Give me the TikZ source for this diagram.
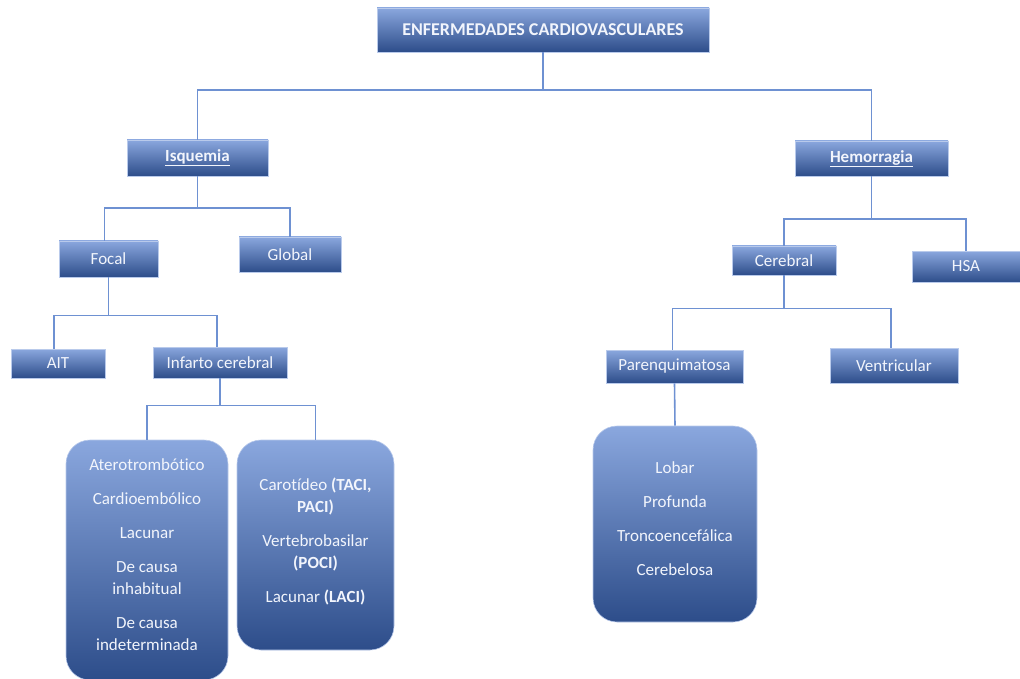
\documentclass[tikz,border=0pt]{standalone}
\usepackage{fontspec}
\setmainfont[Ligatures=NoCommon]{Carlito}
\usetikzlibrary{calc, positioning}

\definecolor{boxtop}{HTML}{8AA7DE}
\definecolor{boxmid}{HTML}{4A73C2}
\definecolor{boxbot}{HTML}{2D4D8A}
\definecolor{linkcol}{HTML}{6E91D2}
\definecolor{boxtext}{HTML}{F2F5FC}

\tikzset{
    box/.style={rectangle, top color=boxtop, middle color=boxmid, bottom color=boxbot, draw=boxtop!60!white, line width=0.6pt, text=boxtext, inner sep=0pt, font=\fontsize{17}{19}\selectfont},
    roundbox/.style={box, rounded corners=24pt, align=center, text depth=10pt, font=\fontsize{17}{22}\selectfont},
    link/.style={draw=linkcol, line width=1.6pt}
}

\begin{document}
\begin{tikzpicture}[x=1pt, y=-1pt]
    \useasboundingbox (0, 0) rectangle (1020, 679);

    \node[box, minimum width=332, minimum height=44, font=\fontsize{18}{20}\selectfont] (cv) at (543, 30) {\textbf{ENFERMEDADES CARDIOVASCULARES}};

    \node[box, minimum width=141, minimum height=36] (isq) at (197.5, 158) {\textbf{\underline{Isquemia}}};
    \node[box, minimum width=153, minimum height=35] (hem) at (871.5, 158.5) {\textbf{\underline{Hemorragia}}};

    \node[box, minimum width=99, minimum height=36] (focal) at (108.5, 259) {Focal};
    \node[box, minimum width=102, minimum height=35] (global) at (290, 254.5) {Global};
    \node[box, minimum width=94, minimum height=29] (ait) at (58, 363.5) {AIT};
    \node[box, minimum width=134, minimum height=31] (inf) at (220, 362.5) {Infarto cerebral};

    \node[box, minimum width=104, minimum height=29] (cer) at (784, 260.5) {Cerebral};
    \node[box, minimum width=108, minimum height=31] (hsa) at (966, 266.5) {HSA};
    \node[box, minimum width=137, minimum height=33] (par) at (674.5, 366.5) {Parenquimatosa};
    \node[box, minimum width=128, minimum height=35] (ven) at (894, 365.5) {Ventricular};

    \node[roundbox, minimum width=162, minimum height=240] (etio) at (147, 560)
        {Aterotrombótico\\[12pt]Cardioembólico\\[12pt]Lacunar\\[12pt]De causa\\inhabitual\\[12pt]De causa\\indeterminada};
    \node[roundbox, minimum width=157, minimum height=210] (topo) at (315.5, 545)
        {Carotídeo \textbf{(TACI,}\\\textbf{PACI)}\\[12pt]Vertebrobasilar\\\textbf{(POCI)}\\[12pt]Lacunar \textbf{(LACI)}};
    \node[roundbox, minimum width=164, minimum height=196] (loc) at (675, 524)
        {Lobar\\[12pt]Profunda\\[12pt]Troncoencefálica\\[12pt]Cerebelosa};

    \draw[link] (cv.south) -- ++(0, 38) -| (isq.north);
    \draw[link] (cv.south) -- ++(0, 38) -| (hem.north);

    \draw[link] (isq.south) -- ++(0, 32) -| ([xshift=-4]focal.north);
    \draw[link] (isq.south) -- ++(0, 32) -| (global.north);
    \draw[link] (focal.south) -- ++(0, 38) -| ([xshift=-4]ait.north);
    \draw[link] (focal.south) -- ++(0, 38) -| ([xshift=-3]inf.north);
    \draw[link] (inf.south) -- ++(0, 27) -| (etio.north);
    \draw[link] (inf.south) -- ++(0, 27) -| (topo.north);

    \draw[link] (hem.south) -- ++(0, 43) -| (cer.north);
    \draw[link] (hem.south) -- ++(0, 43) -| (hsa.north);
    \draw[link] (cer.south) -- ++(0, 33) -| ([xshift=-2]par.north);
    \draw[link] (cer.south) -- ++(0, 33) -| ([xshift=-3]ven.north);
    \draw[link] (par.south) -- (loc.north);
\end{tikzpicture}
\end{document}
